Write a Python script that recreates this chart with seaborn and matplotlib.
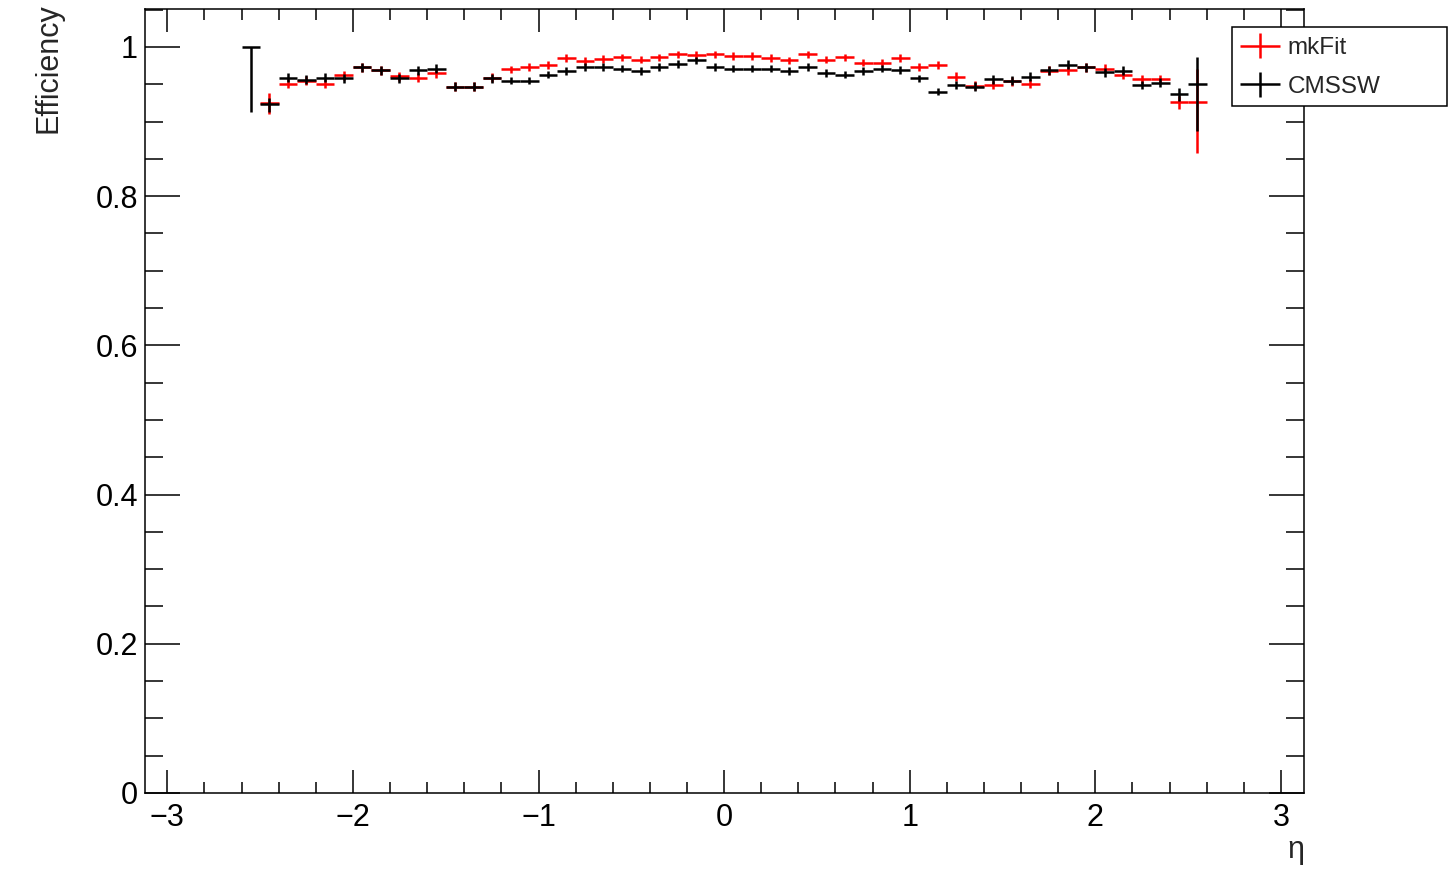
import numpy as np
import matplotlib
matplotlib.use("Agg")
import matplotlib.pyplot as plt
import seaborn as sns
from matplotlib.patches import Rectangle
from matplotlib.ticker import MultipleLocator, FuncFormatter
from matplotlib.container import ErrorbarContainer
from matplotlib.legend_handler import HandlerErrorbar

# === data: efficiency vs eta, bins of width 0.1 ===
eta = [-2.55, -2.45, -2.35, -2.25, -2.15, -2.05, -1.95, -1.85, -1.75, -1.65,
       -1.55, -1.45, -1.35, -1.25, -1.15, -1.05, -0.95, -0.85, -0.75, -0.65,
       -0.55, -0.45, -0.35, -0.25, -0.15, -0.05, 0.05, 0.15, 0.25, 0.35,
       0.45, 0.55, 0.65, 0.75, 0.85, 0.95, 1.05, 1.15, 1.25, 1.35,
       1.45, 1.55, 1.65, 1.75, 1.85, 1.95, 2.05, 2.15, 2.25, 2.35,
       2.45, 2.55]
bin_half_width = 0.05

mkfit_eff = [np.nan, 0.925, 0.951, 0.955, 0.951, 0.962, 0.973, 0.969, 0.961, 0.959,
             0.965, 0.947, 0.947, 0.959, 0.970, 0.973, 0.976, 0.985, 0.981, 0.984,
             0.986, 0.983, 0.986, 0.990, 0.989, 0.990, 0.988, 0.988, 0.985, 0.982,
             0.990, 0.983, 0.986, 0.979, 0.979, 0.985, 0.973, 0.976, 0.960, 0.948,
             0.949, 0.954, 0.951, 0.968, 0.969, 0.973, 0.971, 0.963, 0.957, 0.957,
             0.926, 0.926]
mkfit_err_lo = [np.nan, 0.015, 0.006, 0.006, 0.006, 0.006, 0.006, 0.006, 0.006, 0.006,
                0.006, 0.006, 0.006, 0.006, 0.005, 0.005, 0.005, 0.005, 0.005, 0.005,
                0.005, 0.005, 0.005, 0.005, 0.005, 0.005, 0.005, 0.005, 0.005, 0.005,
                0.005, 0.005, 0.005, 0.005, 0.005, 0.005, 0.005, 0.005, 0.006, 0.006,
                0.006, 0.006, 0.006, 0.006, 0.006, 0.006, 0.006, 0.006, 0.006, 0.006,
                0.009, 0.068]
mkfit_err_hi = [np.nan, 0.013, 0.006, 0.006, 0.006, 0.006, 0.006, 0.006, 0.006, 0.006,
                0.006, 0.006, 0.006, 0.006, 0.005, 0.005, 0.005, 0.005, 0.005, 0.005,
                0.005, 0.005, 0.005, 0.005, 0.005, 0.005, 0.005, 0.005, 0.005, 0.005,
                0.005, 0.005, 0.005, 0.005, 0.005, 0.005, 0.005, 0.005, 0.006, 0.006,
                0.006, 0.006, 0.006, 0.006, 0.006, 0.006, 0.006, 0.006, 0.006, 0.006,
                0.008, 0.045]

cmssw_eff = [1.000, 0.923, 0.959, 0.956, 0.959, 0.958, 0.973, 0.969, 0.958, 0.969,
             0.971, 0.947, 0.947, 0.958, 0.955, 0.955, 0.963, 0.968, 0.973, 0.973,
             0.971, 0.968, 0.973, 0.977, 0.982, 0.973, 0.971, 0.971, 0.971, 0.968,
             0.973, 0.965, 0.963, 0.968, 0.971, 0.969, 0.958, 0.940, 0.949, 0.947,
             0.957, 0.955, 0.960, 0.969, 0.976, 0.973, 0.966, 0.968, 0.949, 0.952,
             0.937, 0.951]
cmssw_err_lo = [0.087, 0.010, 0.006, 0.006, 0.006, 0.006, 0.006, 0.006, 0.006, 0.006,
                0.006, 0.006, 0.006, 0.006, 0.005, 0.005, 0.005, 0.005, 0.005, 0.005,
                0.005, 0.005, 0.005, 0.005, 0.005, 0.005, 0.005, 0.005, 0.005, 0.005,
                0.005, 0.005, 0.005, 0.005, 0.005, 0.005, 0.005, 0.005, 0.006, 0.006,
                0.006, 0.006, 0.006, 0.006, 0.006, 0.006, 0.006, 0.006, 0.006, 0.006,
                0.009, 0.063]
cmssw_err_hi = [0.000, 0.009, 0.006, 0.006, 0.006, 0.006, 0.006, 0.006, 0.006, 0.006,
                0.006, 0.006, 0.006, 0.006, 0.005, 0.005, 0.005, 0.005, 0.005, 0.005,
                0.005, 0.005, 0.005, 0.005, 0.005, 0.005, 0.005, 0.005, 0.005, 0.005,
                0.005, 0.005, 0.005, 0.005, 0.005, 0.005, 0.005, 0.005, 0.006, 0.006,
                0.006, 0.006, 0.006, 0.006, 0.006, 0.006, 0.006, 0.006, 0.006, 0.006,
                0.008, 0.035]

x_ticks = [-3, -2, -1, 0, 1, 2, 3]

# === style ===
sns.set_theme(style="ticks")
plt.rcParams['font.family'] = ['Liberation Sans', 'DejaVu Sans']
plt.rcParams['axes.unicode_minus'] = True

fig = plt.figure(figsize=(14.5, 8.93), dpi=100)
ax = fig.add_axes([0.1, 0.112, 0.7993, 0.878])

# mkFit first so CMSSW sits on top, like the original
eb_mk = ax.errorbar(eta, mkfit_eff, xerr=bin_half_width,
                    yerr=[mkfit_err_lo, mkfit_err_hi], fmt='none',
                    ecolor='#ff0000', elinewidth=1.8, capsize=0, label='mkFit')
eb_cm = ax.errorbar(eta, cmssw_eff, xerr=bin_half_width,
                    yerr=[cmssw_err_lo, cmssw_err_hi], fmt='none',
                    ecolor='black', elinewidth=1.8, capsize=0, label='CMSSW')

ax.set_xlim(-3.12, 3.124)
ax.set_ylim(0, 1.051)

ax.set_xticks(x_ticks)
ax.xaxis.set_minor_locator(MultipleLocator(0.2))
ax.yaxis.set_major_locator(MultipleLocator(0.2))
ax.yaxis.set_minor_locator(MultipleLocator(0.05))
ax.yaxis.set_major_formatter(FuncFormatter(lambda v, p: f"{v:g}"))
ax.xaxis.set_major_formatter(FuncFormatter(lambda v, p: f"{v:g}".replace('-', '\u2212')))

ax.tick_params(which='both', direction='in', top=True, right=True,
               colors='black', width=1.1, labelsize=22)
ax.tick_params(axis='x', which='major', length=16.5, pad=7)
ax.tick_params(axis='x', which='minor', length=8)
ax.tick_params(axis='y', which='major', length=25, pad=5)
ax.tick_params(axis='y', which='minor', length=13)
for s in ax.spines.values():
    s.set_color('black')
    s.set_linewidth(1.1)

ax.set_ylabel('Efficiency', loc='top', fontsize=22)
ax.yaxis.set_label_coords(-0.07, 1.007)
ax.set_xlabel('\u03b7', loc='right', fontsize=22)
ax.xaxis.set_label_coords(1.0, -0.053)
ax.xaxis.label.set_verticalalignment('top')

# legend box, ROOT style (square, sticking out past the frame)
box = Rectangle((0.8497, 0.8813), 0.1483, 0.0885, transform=fig.transFigure,
                facecolor='white', edgecolor='black', linewidth=1.1, zorder=4)
fig.add_artist(box)
leg = fig.legend([eb_mk, eb_cm], ['mkFit', 'CMSSW'], loc='center left',
                 bbox_to_anchor=(1240 / 1450, 1 - 67.5 / 893), frameon=False,
                 fontsize=17.5, handlelength=1.65, handletextpad=0.3,
                 labelspacing=0.68, borderpad=0, borderaxespad=0,
                 handler_map={ErrorbarContainer: HandlerErrorbar(xerr_size=0.82, yerr_size=0.52)})
leg.set_zorder(5)

fig.savefig('out.png', dpi=100)
